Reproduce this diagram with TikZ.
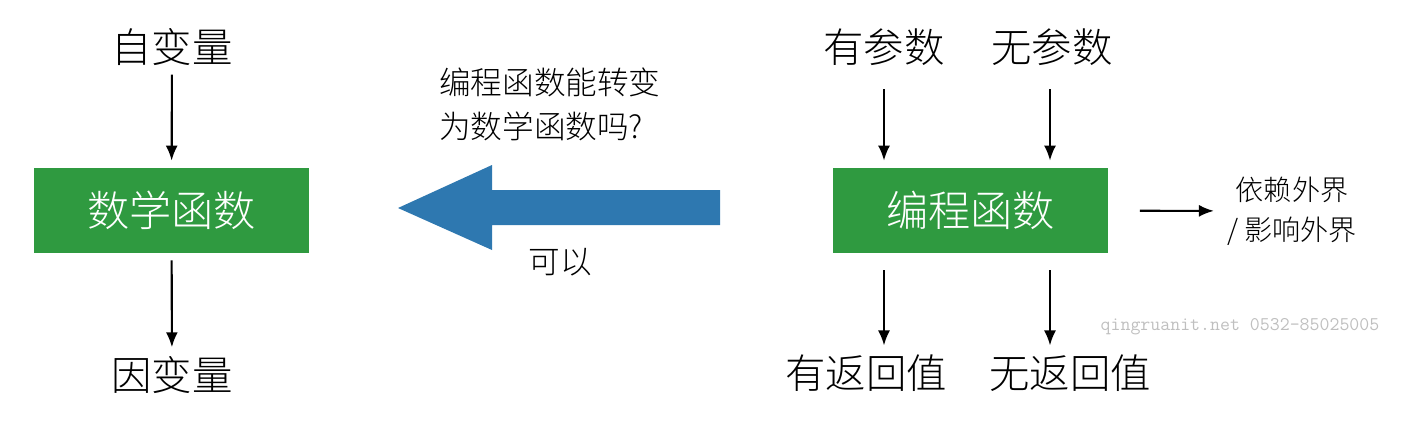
\documentclass[tikz,border=0pt]{standalone}
\usepackage{fontspec}
\setmainfont{Noto Sans CJK SC}[UprightFont=* Light]
\usetikzlibrary{arrows.meta}
\definecolor{boxgreen}{HTML}{2F9A40}
\definecolor{arrowblue}{HTML}{2E78B0}
\tikzset{
  lbl/.style={font=\fontsize{23}{27}\selectfont, inner sep=1pt},
  fn/.style={fill=boxgreen, text=white, minimum width=5.5cm, minimum height=1.7cm, font=\fontsize{24}{28}\selectfont},
  arr/.style={-{Latex[length=3mm,width=2.4mm]}, line width=1.2pt, shorten >=4pt, shorten <=4pt},
}
\begin{document}
\begin{tikzpicture}[x=0.02cm, y=-0.02cm]
\useasboundingbox (0,0) rectangle (1404,424);

% left side
\node [lbl] (ziv) at (172,47) {自变量};
\node [fn] (math) at (171.5,210.5) {数学函数};
\node [lbl] (yinv) at (172,375) {因变量};
\draw [arr] (ziv) -- (math);
\draw [arr] (math) -- (yinv);

% big arrow
\fill [arrowblue] (720,190) -- (492,190) -- (492,165) -- (398,208) -- (492,250) -- (492,225) -- (720,225) -- cycle;
\node [anchor=west, align=left, font=\fontsize{18}{25}\selectfont] (q) at (433,104) {编程函数能转变\\为数学函数吗?};
\node [font=\fontsize{18}{20}\selectfont] (ok) at (560,262) {可以};

% right side
\node [lbl] (youc) at (884,47) {有参数};
\node [lbl] (wuc) at (1052,47) {无参数};
\node [fn] (prog) at (970.5,210.5) {编程函数};
\node [lbl] (youf) at (866,373) {有返回值};
\node [lbl] (wuf) at (1070,373) {无返回值};
\coordinate (a1) at (884,82);
\coordinate (a2) at (1050,82);
\coordinate (b1) at (884,263);
\coordinate (b2) at (1050,263);
\draw [arr] (a1) -- (a1 |- prog.north);
\draw [arr] (a2) -- (a2 |- prog.north);
\draw [arr] (b1) -- (b1 |- youf.north);
\draw [arr] (b2) -- (b2 |- wuf.north);

\node [align=center, font=\fontsize{16}{23}\selectfont] (ext) at (1292,211) {依赖外界\\/ 影响外界};
\draw [arr, shorten <=18pt] (prog) -- (ext);

\node [text=gray!50, font=\ttfamily\fontsize{11}{12}\selectfont] (wm) at (1240,327) {qingruanit.net 0532-85025005};
\end{tikzpicture}
\end{document}
